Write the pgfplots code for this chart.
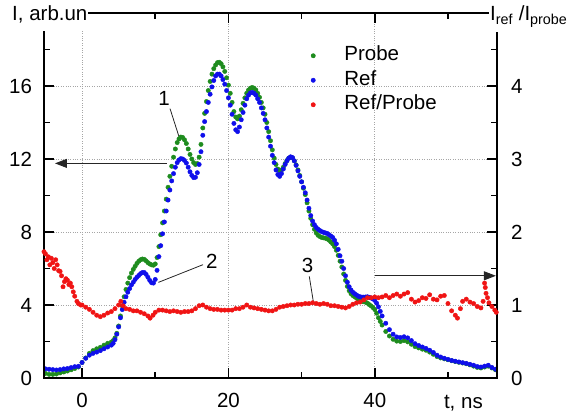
\documentclass[border=0pt]{standalone}
\usepackage{pgfplots}
\pgfplotsset{compat=1.18}
\usepackage{fontspec}
\setmainfont{Liberation Sans}
\usetikzlibrary{arrows.meta}
\newcommand{\fs}{\fontsize{20.5bp}{24bp}\selectfont}
\definecolor{cgreen}{RGB}{30,140,30}
\definecolor{cblue}{RGB}{15,15,235}
\definecolor{cred}{RGB}{240,20,20}
\begin{document}
\fs
\begin{tikzpicture}
\path[use as bounding box] (-44bp,-38bp) rectangle (526bp,378bp);
\begin{axis}[name=ax1, at={(0,0)}, anchor=south west, scale only axis,
 width=453bp, height=365bp,
 xmin=-5.2, xmax=56.7, ymin=0, ymax=20,
 xtick={0,20,40}, minor xtick={10,30,50},
 ytick={0,4,8,12,16}, minor ytick={2,6,10,14,18},
 ytick pos=left, xtick pos=both,
 tick align=inside, major tick length=10bp, minor tick length=6bp,
 every tick/.style={black, line width=1.5bp},
 axis line style={line width=1.8bp},
 grid=major, major grid style={dotted, line width=0.8bp, gray!70},
 /pgf/number format/assume math mode=true,
 tick label style={font=\fs},
 xticklabel style={yshift=-8bp},
 yticklabel style={xshift=-5bp},
 clip=false,
 legend style={draw=none, fill=none, at={(0.589,0.908)}, anchor=north west,
   inner sep=0pt, row sep=6.5bp, column sep=0bp, font=\fs,
   nodes={inner xsep=29bp, inner ysep=0bp, text height=14bp, text depth=4bp}},
 legend cell align=left,
 legend image code/.code={\draw[#1] plot coordinates {(0bp,0bp)};},
]
\addplot[only marks, mark=*, mark size=2.2bp, cgreen] table {
-5.0 0.25
-4.5 0.20
-4.0 0.20
-3.5 0.22
-3.0 0.28
-2.5 0.33
-2.0 0.38
-1.5 0.45
-1.0 0.52
-0.5 0.60
0.0 0.85
0.5 1.10
1.0 1.35
1.5 1.50
2.0 1.60
2.5 1.68
3.0 1.80
3.5 1.90
4.0 1.97
4.25 2.05
4.5 2.20
4.75 2.45
5.0 2.85
5.25 3.40
5.5 3.95
5.75 4.45
6.0 4.85
6.25 5.20
6.5 5.50
6.75 5.75
7.0 5.95
7.25 6.12
7.5 6.28
7.75 6.40
8.0 6.48
8.25 6.52
8.5 6.50
8.75 6.42
9.0 6.32
9.25 6.25
9.5 6.20
9.75 6.18
10.0 6.25
10.25 6.60
10.5 7.20
10.75 7.85
11.0 8.50
11.25 9.15
11.5 9.80
11.75 10.45
12.0 11.05
12.25 11.60
12.5 12.10
12.75 12.55
13.0 12.90
13.25 13.10
13.5 13.20
13.75 13.18
14.0 13.05
14.25 12.85
14.5 12.55
14.75 12.25
15.0 12.00
15.25 11.80
15.5 11.70
15.75 11.75
16.0 12.10
16.25 12.80
16.5 13.70
16.75 14.50
17.0 15.15
17.25 15.75
17.5 16.25
17.75 16.65
18.0 16.95
18.25 17.15
18.5 17.28
18.75 17.30
19.0 17.22
19.25 17.05
19.5 16.80
19.75 16.45
20.0 16.05
20.25 15.60
20.5 15.10
20.75 14.60
21.0 14.30
21.25 14.20
21.5 14.35
21.75 14.70
22.0 15.05
22.25 15.35
22.5 15.60
22.75 15.78
23.0 15.88
23.25 15.92
23.5 15.88
23.75 15.78
24.0 15.60
24.25 15.38
24.5 15.10
24.75 14.80
25.0 14.45
25.25 14.00
25.5 13.50
25.75 13.00
26.0 12.50
26.25 12.05
26.5 11.70
26.75 11.45
27.0 11.35
27.25 11.40
27.5 11.55
27.75 11.75
28.0 11.92
28.25 12.05
28.5 12.10
28.75 12.06
29.0 11.90
29.25 11.68
29.5 11.40
29.75 11.10
30.0 10.75
30.25 10.40
30.5 10.05
30.75 9.60
31.0 9.15
31.25 8.75
31.5 8.40
31.75 8.15
32.0 7.95
32.25 7.82
32.5 7.75
32.75 7.70
33.0 7.68
33.25 7.66
33.5 7.62
33.75 7.55
34.0 7.45
34.25 7.35
34.5 7.20
34.75 7.00
35.0 6.72
35.25 6.40
35.5 6.08
35.75 5.70
36.0 5.35
36.25 5.02
36.5 4.78
36.75 4.62
37.0 4.52
37.25 4.45
37.5 4.38
37.75 4.30
38.0 4.25
38.25 4.20
38.5 4.18
38.75 4.15
39.0 4.10
39.25 4.02
39.5 3.95
39.75 3.86
40.0 3.75
40.25 3.55
40.5 3.30
40.75 3.10
41.0 2.90
41.5 2.55
42.0 2.30
42.5 2.12
43.0 2.02
43.5 2.00
44.0 2.05
44.5 1.98
45.0 1.85
45.5 1.72
46.0 1.65
46.5 1.58
47.0 1.52
47.5 1.42
48.0 1.30
48.5 1.18
49.0 1.10
49.5 1.05
50.0 1.00
50.5 0.95
51.0 0.90
51.5 0.86
52.0 0.82
52.5 0.78
53.0 0.72
53.5 0.65
54.0 0.58
54.5 0.55
55.0 0.60
55.5 0.65
56.0 0.55
56.5 0.45
};
\addlegendentry{Probe}
\addplot[only marks, mark=*, mark size=2.2bp, cblue] table {
-5.0 0.50
-4.5 0.48
-4.0 0.46
-3.5 0.44
-3.0 0.46
-2.5 0.50
-2.0 0.52
-1.5 0.57
-1.0 0.62
-0.5 0.64
0.0 0.85
0.5 1.08
1.0 1.25
1.5 1.35
2.0 1.42
2.5 1.50
3.0 1.60
3.5 1.70
4.0 1.80
4.25 1.90
4.5 2.10
4.75 2.40
5.0 2.80
5.25 3.30
5.5 3.75
5.75 4.15
6.0 4.45
6.25 4.70
6.5 4.90
6.75 5.10
7.0 5.25
7.25 5.40
7.5 5.52
7.75 5.62
8.0 5.72
8.25 5.78
8.5 5.78
8.75 5.68
9.0 5.52
9.25 5.35
9.5 5.22
9.75 5.20
10.0 5.40
10.25 5.90
10.5 6.65
10.75 7.25
11.0 7.90
11.25 8.55
11.5 9.15
11.75 9.75
12.0 10.30
12.25 10.80
12.5 11.20
12.75 11.55
13.0 11.80
13.25 11.95
13.5 12.02
13.75 12.00
14.0 11.92
14.25 11.78
14.5 11.55
14.75 11.30
15.0 11.10
15.25 10.98
15.5 11.00
15.75 11.25
16.0 11.70
16.25 12.40
16.5 13.30
16.75 14.05
17.0 14.60
17.25 15.10
17.5 15.55
17.75 15.95
18.0 16.30
18.25 16.55
18.5 16.65
18.75 16.65
19.0 16.55
19.25 16.35
19.5 16.10
19.75 15.75
20.0 15.35
20.25 14.95
20.5 14.45
20.75 13.95
21.0 13.60
21.25 13.50
21.5 13.75
21.75 14.15
22.0 14.55
22.25 14.95
22.5 15.30
22.75 15.50
23.0 15.62
23.25 15.65
23.5 15.60
23.75 15.50
24.0 15.30
24.25 15.10
24.5 14.80
24.75 14.50
25.0 14.15
25.25 13.70
25.5 13.20
25.75 12.70
26.0 12.20
26.25 11.80
26.5 11.40
26.75 11.15
27.0 11.05
27.25 11.20
27.5 11.45
27.75 11.70
28.0 11.90
28.25 12.05
28.5 12.12
28.75 12.08
29.0 11.90
29.25 11.65
29.5 11.35
29.75 11.05
30.0 10.75
30.25 10.45
30.5 10.15
30.75 9.75
31.0 9.30
31.25 8.90
31.5 8.60
31.75 8.40
32.0 8.25
32.25 8.15
32.5 8.08
32.75 8.02
33.0 7.98
33.25 7.95
33.5 7.92
33.75 7.85
34.0 7.78
34.25 7.70
34.5 7.55
34.75 7.35
35.0 7.05
35.25 6.70
35.5 6.40
35.75 6.00
36.0 5.60
36.25 5.25
36.5 5.00
36.75 4.82
37.0 4.70
37.25 4.62
37.5 4.55
37.75 4.48
38.0 4.45
38.25 4.43
38.5 4.43
38.75 4.44
39.0 4.45
39.25 4.42
39.5 4.38
39.75 4.33
40.0 4.25
40.25 4.10
40.5 3.90
40.75 3.65
41.0 3.40
41.5 3.00
42.0 2.65
42.5 2.40
43.0 2.25
43.5 2.22
44.0 2.26
44.5 2.20
45.0 2.05
45.5 1.88
46.0 1.78
46.5 1.70
47.0 1.62
47.5 1.52
48.0 1.40
48.5 1.25
49.0 1.15
49.5 1.08
50.0 1.02
50.5 0.96
51.0 0.92
51.5 0.88
52.0 0.84
52.5 0.80
53.0 0.75
53.5 0.70
54.0 0.63
54.5 0.60
55.0 0.65
55.5 0.70
56.0 0.58
56.5 0.48
};
\addlegendentry{Ref}
\addlegendimage{only marks, mark=*, mark size=2.2bp, cred}
\addlegendentry{Ref/Probe}
\draw[black!85, line width=0.8bp] (axis cs:12.02,14.76) -- (axis cs:13.29,13.17);
\node[font=\fs] at (axis cs:11.2,15.3) {1};
\draw[black!85, line width=0.8bp] (axis cs:16.53,6.21) -- (axis cs:10.43,5.24);
\node[font=\fs] at (axis cs:17.72,6.39) {2};
\draw[black!85, line width=0.8bp] (axis cs:31.05,5.57) -- (axis cs:31.6,4.19);
\node[font=\fs] at (axis cs:30.8,6.18) {3};
\draw[black!85, line width=0.9bp, -{Triangle[length=12bp,width=9bp]}] (axis cs:11.6,11.76) -- (axis cs:-3.7,11.76);
\draw[black!85, line width=0.9bp, -{Triangle[length=12bp,width=9bp]}] (axis cs:40.03,5.6) -- (axis cs:56.55,5.6);
\end{axis}
\begin{axis}[at={(0,0)}, anchor=south west, scale only axis,
 width=453bp, height=365bp,
 xmin=-5.2, xmax=56.7, ymin=0, ymax=5,
 xtick=\empty,
 ytick={0,1,2,3,4}, minor ytick={0.5,1.5,2.5,3.5,4.5},
 ytick pos=right, yticklabel pos=right,
 tick align=inside, major tick length=10bp, minor tick length=6bp,
 every tick/.style={black, line width=1.5bp},
 axis line style={line width=1.8bp},
 /pgf/number format/assume math mode=true,
 tick label style={font=\fs},
 yticklabel style={xshift=7bp},
 clip=false,
]
\addplot[only marks, mark=*, mark size=2.2bp, cred] table {
-5.2 1.73
-5.0 1.70
-4.8 1.62
-4.6 1.66
-4.4 1.55
-4.2 1.64
-4.0 1.58
-3.8 1.50
-3.6 1.62
-3.4 1.55
-3.2 1.47
-3.0 1.46
-2.8 1.40
-2.6 1.25
-2.4 1.32
-2.2 1.36
-2.0 1.34
-1.8 1.28
-1.6 1.30
-1.4 1.25
-1.2 1.18
-1.0 1.12
-0.7 1.05
-0.5 1.02
-0.2 1.00
0.0 1.00
0.5 0.97
1.0 0.94
1.5 0.90
2.0 0.86
2.5 0.84
3.0 0.86
3.5 0.89
4.0 0.91
4.5 0.95
5.0 1.00
5.3 1.05
5.6 0.99
6.0 0.95
6.5 0.94
7.0 0.92
7.5 0.92
8.0 0.90
8.5 0.88
9.0 0.85
9.3 0.82
9.7 0.86
10.0 0.90
10.5 0.93
11.0 0.93
11.5 0.92
12.0 0.91
12.5 0.92
13.0 0.91
13.5 0.90
14.0 0.91
14.5 0.91
15.0 0.92
15.5 0.95
16.0 0.99
16.5 1.00
17.0 0.97
17.5 0.95
18.0 0.94
18.5 0.94
19.0 0.93
19.5 0.93
20.0 0.93
20.5 0.93
21.0 0.95
21.5 0.95
22.0 0.97
22.5 1.00
23.0 0.97
23.5 0.96
24.0 0.95
24.5 0.94
25.0 0.93
25.5 0.92
26.0 0.92
26.5 0.94
27.0 0.97
27.5 0.98
28.0 0.99
28.5 1.00
29.0 1.00
29.5 1.01
30.0 1.01
30.5 1.02
31.0 1.02
31.5 1.03
32.0 1.02
32.5 1.01
33.0 1.02
33.5 1.01
34.0 0.99
34.5 0.99
35.0 0.98
35.5 0.97
36.0 0.96
36.5 0.98
37.0 1.01
37.5 1.03
38.0 1.04
38.5 1.07
39.0 1.10
39.5 1.10
40.0 1.11
40.5 1.10
41.0 1.11
41.5 1.13
42.0 1.10
42.5 1.13
43.0 1.15
43.5 1.12
44.0 1.15
44.5 1.17
45.0 1.08
45.5 1.04
46.0 1.06
46.5 1.10
47.0 1.09
47.5 1.14
48.0 1.08
48.5 1.07
49.0 1.12
49.5 1.13
50.0 1.02
50.5 0.92
51.0 0.86
51.3 0.82
51.7 0.95
52.0 1.05
52.5 1.08
53.0 1.04
53.5 1.02
54.0 0.98
54.5 0.96
54.8 1.05
55.0 1.30
55.1 1.24
55.2 1.16
55.4 1.10
55.6 1.03
56.0 0.98
56.4 0.93
56.6 0.90
};
\end{axis}
\node[anchor=base west, fill=white, inner sep=1bp, text depth=9bp, font=\fs] at ([xshift=-33bp,yshift=-8bp]ax1.north west) {I, arb.un};
\node[anchor=base west, fill=white, inner sep=1bp, text depth=10bp, font=\fs] at ([xshift=-8bp,yshift=-8bp]ax1.north east) {I\textsubscript{ref} /I\textsubscript{probe}};
\node[anchor=base west, font=\fs] at ([xshift=393bp,yshift=-30bp]ax1.south west) {t, ns};
\end{tikzpicture}
\end{document}
